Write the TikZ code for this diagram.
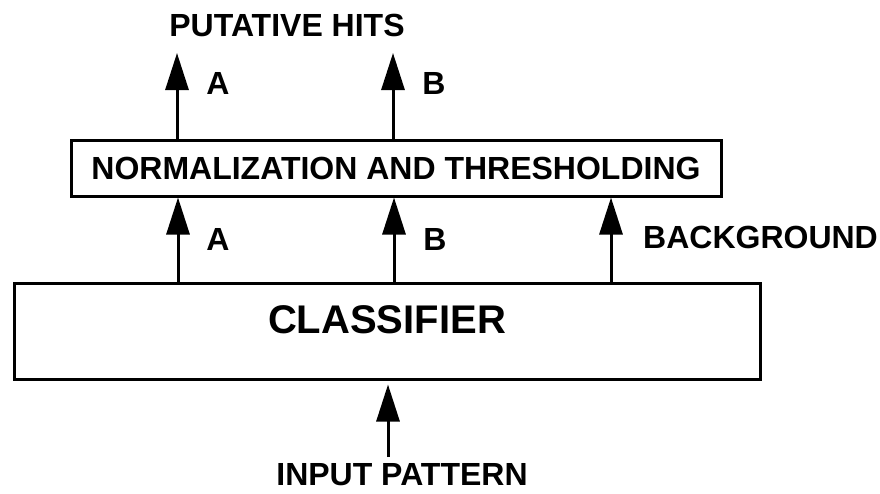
\documentclass[tikz,border=0pt]{standalone}
\usepackage{fontspec}
\setmainfont{Liberation Sans}
\usetikzlibrary{arrows.meta}
\begin{document}
\begin{tikzpicture}[x=1pt,y=-1pt,
  lbl/.style={inner sep=0pt, font=\fontsize{32}{36}\selectfont\bfseries},
  boxn/.style={draw, line width=3pt, inner sep=0pt},
  arr/.style={line width=3pt, -{Triangle[width=23pt,length=37pt]}}]
  \useasboundingbox (0,0) rectangle (880,493);

  % processing blocks
  \node[boxn, lbl, minimum width=650pt, minimum height=56pt] (norm) at (396,168)
    {NORMALIZATION AND THRESHOLDING};
  \node[boxn, minimum width=746pt, minimum height=96pt, text depth=22pt,
        font=\fontsize{40}{44}\selectfont\bfseries] (cls) at (387,331) {CLASSIFIER};

  % channel positions
  \coordinate (ca) at (178,0);
  \coordinate (cb) at (394,0);
  \coordinate (cg) at (611,0);
  \coordinate (outa) at (177,53);
  \coordinate (outb) at (393,53);
  \coordinate (inp) at (388,457);

  % classifier outputs to normalization
  \draw[arr] (cls.north -| ca) -- (norm.south -| ca);
  \draw[arr] (cls.north -| cb) -- (norm.south -| cb);
  \draw[arr] (cls.north -| cg) -- (norm.south -| cg);

  % putative hits
  \draw[arr] (norm.north -| outa) -- (outa);
  \draw[arr] (norm.north -| outb) -- (outb);

  % input
  \draw[arr, shorten >=4pt] (inp) -- (cls.south -| inp);

  % labels
  \node[lbl] (title) at (287,25) {PUTATIVE HITS};
  \node[lbl] (la1) at (218,83) {A};
  \node[lbl] (lb1) at (434,83) {B};
  \node[lbl] (la2) at (218,239) {A};
  \node[lbl] (lb2) at (435,239) {B};
  \node[lbl, anchor=west] (lbg) at (643,237) {BACKGROUND};
  \node[lbl] (lin) at (402,475) {INPUT PATTERN};
\end{tikzpicture}
\end{document}
